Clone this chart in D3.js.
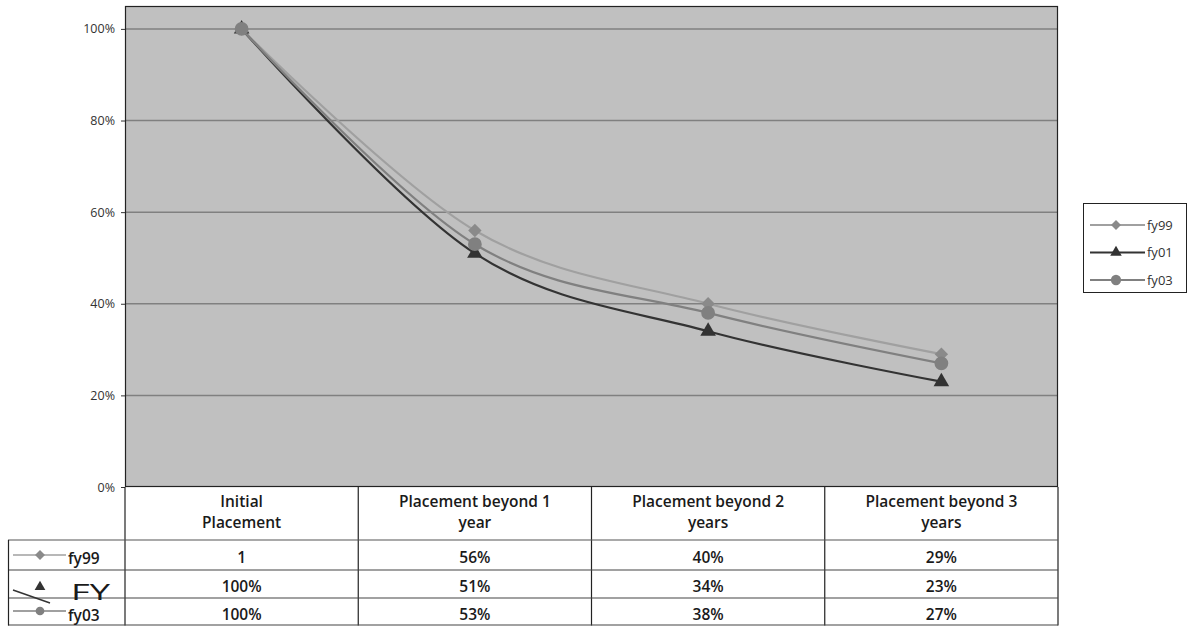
<!DOCTYPE html>
<html>
<head>
<meta charset="utf-8">
<script src="https://cdn.jsdelivr.net/npm/d3@7"></script>
<style>
  html, body { margin: 0; padding: 0; background: #fff; }
  svg { display: block; font-family: "Open Sans", Lato, sans-serif; }
</style>
</head>
<body>
<svg id="chart" width="1193" height="627"></svg>
<script>
// Share of placements still open at each stage, by fiscal-year cohort
const categories = ["Initial Placement", "Placement beyond 1 year", "Placement beyond 2 years", "Placement beyond 3 years"];
const headerLines = [["Initial", "Placement"], ["Placement beyond 1", "year"], ["Placement beyond 2", "years"], ["Placement beyond 3", "years"]];
const seriesNames = ["fy99", "fy01", "fy03"];
const fy99 = [1.00, 0.56, 0.40, 0.29];
const fy01 = [1.00, 0.51, 0.34, 0.23];
const fy03 = [1.00, 0.53, 0.38, 0.27];
const tableText = [
  ["1", "56%", "40%", "29%"],
  ["100%", "51%", "34%", "23%"],
  ["100%", "53%", "38%", "27%"]
];
const yTicks = [0, 0.2, 0.4, 0.6, 0.8, 1.0];

// rotated square used for the fy99 markers
const symbolRhombus = {
  draw(ctx, size) {
    const r = Math.sqrt(size / 2);
    ctx.moveTo(0, -r); ctx.lineTo(r, 0); ctx.lineTo(0, r); ctx.lineTo(-r, 0); ctx.closePath();
  }
};

const series = [
  { name: seriesNames[0], values: fy99, line: "#a0a0a0", fill: "#8a8a8a", symbol: symbolRhombus, size: 90 },
  { name: seriesNames[1], values: fy01, line: "#333333", fill: "#333333", symbol: d3.symbolTriangle, size: 105 },
  { name: seriesNames[2], values: fy03, line: "#808080", fill: "#808080", symbol: d3.symbolCircle, size: 150 }
];

const svg = d3.select("#chart");
const plot = { left: 125, right: 1058, top: 6, bottom: 487 };

const x = d3.scaleBand().domain(categories).range([plot.left, plot.right]);
const y = d3.scaleLinear().domain([0, 1.05]).range([plot.bottom, plot.top]);
const cx = c => x(c) + x.bandwidth() / 2;

// plot background
svg.append("rect")
  .attr("x", plot.left).attr("y", plot.top)
  .attr("width", plot.right - plot.left).attr("height", plot.bottom - plot.top)
  .attr("fill", "#c0c0c0");

// gridlines
svg.append("g").selectAll("line").data(yTicks.filter(t => t > 0)).join("line")
  .attr("x1", plot.left).attr("x2", plot.right)
  .attr("y1", d => y(d)).attr("y2", d => y(d))
  .attr("stroke", "#808080").attr("stroke-width", 1.5);

// plot frame
svg.append("rect")
  .attr("x", plot.left + 0.5).attr("y", plot.top + 0.5)
  .attr("width", plot.right - plot.left - 1).attr("height", plot.bottom - plot.top - 1)
  .attr("fill", "none").attr("stroke", "#222").attr("stroke-width", 1.2);

// y axis
const yAxis = d3.axisLeft(y).tickValues(yTicks).tickFormat(d3.format(".0%"))
  .tickSize(4).tickPadding(6);
const ya = svg.append("g").attr("transform", `translate(${plot.left},0)`).call(yAxis);
ya.select(".domain").remove();
ya.selectAll(".tick line").attr("stroke", "#333");
ya.selectAll(".tick text").attr("x", -10).attr("fill", "#333")
  .attr("font-size", 12.5).attr("font-family", "'Open Sans', sans-serif");

// lines
const line = d3.line()
  .x((d, i) => cx(categories[i]))
  .y(d => y(d))
  .curve(d3.curveCardinal.tension(0));

const gLines = svg.append("g");
series.forEach(s => {
  gLines.append("path").datum(s.values)
    .attr("d", line).attr("fill", "none")
    .attr("stroke", s.line).attr("stroke-width", 2.2);
});
series.forEach(s => {
  gLines.append("g").selectAll("path").data(s.values).join("path")
    .attr("transform", (d, i) => `translate(${cx(categories[i])},${y(d)})`)
    .attr("d", d3.symbol().type(s.symbol).size(s.size))
    .attr("fill", s.fill);
});

// legend on the right
const lg = svg.append("g").attr("transform", "translate(1083,203)");
lg.append("rect").attr("x", 0.5).attr("y", 0.5).attr("width", 103).attr("height", 89)
  .attr("fill", "#fff").attr("stroke", "#222");
series.forEach((s, i) => {
  const yy = 22 + i * 27.5;
  lg.append("line").attr("x1", 7).attr("x2", 62).attr("y1", yy).attr("y2", yy)
    .attr("stroke", s.line).attr("stroke-width", 2);
  lg.append("path").attr("transform", `translate(33,${yy})`)
    .attr("d", d3.symbol().type(s.symbol).size(s.size * 0.55)).attr("fill", s.fill);
  lg.append("text").attr("x", 64).attr("y", yy + 4.5).attr("font-size", 13)
    .attr("fill", "#333").text(s.name);
});

// data table under the plot
const rowLines = [540, 570, 598, 625];
const table = svg.append("g");
const cellFont = 15.5;
// header cells
headerLines.forEach((lines, i) => {
  lines.forEach((t, j) => {
    table.append("text").attr("x", cx(categories[i])).attr("y", 507 + j * 20.5)
      .attr("text-anchor", "middle").attr("font-size", cellFont).attr("font-weight", 600)
      .attr("fill", "#1a1a1a").text(t);
  });
});
// vertical column borders
const colEdges = categories.map(c => x(c)).concat([plot.right]);
table.selectAll("line.col").data(colEdges).join("line")
  .attr("x1", d => d).attr("x2", d => d).attr("y1", plot.bottom).attr("y2", 625.5)
  .attr("stroke", "#222").attr("stroke-width", 1.2);
// row borders
table.selectAll("line.row").data(rowLines).join("line")
  .attr("x1", 8).attr("x2", plot.right).attr("y1", d => d).attr("y2", d => d)
  .attr("stroke", (d, i) => i === 0 ? "#555" : "#444").attr("stroke-width", 1.2);
table.append("line").attr("x1", 8.5).attr("x2", 8.5).attr("y1", 540).attr("y2", 625.5)
  .attr("stroke", "#222").attr("stroke-width", 1.2);

// cell values
tableText.forEach((row, r) => {
  row.forEach((t, c) => {
    table.append("text").attr("x", cx(categories[c])).attr("y", 563 + r * 28.5)
      .attr("text-anchor", "middle").attr("font-size", cellFont).attr("font-weight", 600)
      .attr("fill", "#1a1a1a").text(t);
  });
});

// legend keys in the first column
const keyY = [555, 584, 611];
// fy99
table.append("line").attr("x1", 13).attr("x2", 66).attr("y1", keyY[0]).attr("y2", keyY[0])
  .attr("stroke", series[0].line).attr("stroke-width", 1.5);
table.append("path").attr("transform", `translate(40,${keyY[0]})`)
  .attr("d", d3.symbol().type(series[0].symbol).size(50)).attr("fill", series[0].fill);
table.append("text").attr("x", 68).attr("y", 564).attr("font-size", cellFont).attr("font-weight", 600)
  .attr("fill", "#1a1a1a").text(seriesNames[0]);
// fy01 (key drawn askew with an oversized label)
table.append("line").attr("x1", 13).attr("x2", 50).attr("y1", 590).attr("y2", 603)
  .attr("stroke", "#333").attr("stroke-width", 1.5);
table.append("path").attr("transform", "translate(40,587)")
  .attr("d", d3.symbol().type(d3.symbolTriangle).size(50)).attr("fill", "#333");
table.append("text").attr("x", 71).attr("y", 600).attr("font-size", 21)
  .attr("textLength", 39).attr("lengthAdjust", "spacingAndGlyphs")
  .attr("fill", "#1a1a1a").text("FY");
// fy03
table.append("line").attr("x1", 13).attr("x2", 66).attr("y1", keyY[2]).attr("y2", keyY[2])
  .attr("stroke", series[2].line).attr("stroke-width", 1.5);
table.append("path").attr("transform", `translate(40,${keyY[2]})`)
  .attr("d", d3.symbol().type(series[2].symbol).size(60)).attr("fill", series[2].fill);
table.append("text").attr("x", 68).attr("y", 621).attr("font-size", cellFont).attr("font-weight", 600)
  .attr("fill", "#1a1a1a").text(seriesNames[2]);
</script>
</body>
</html>
